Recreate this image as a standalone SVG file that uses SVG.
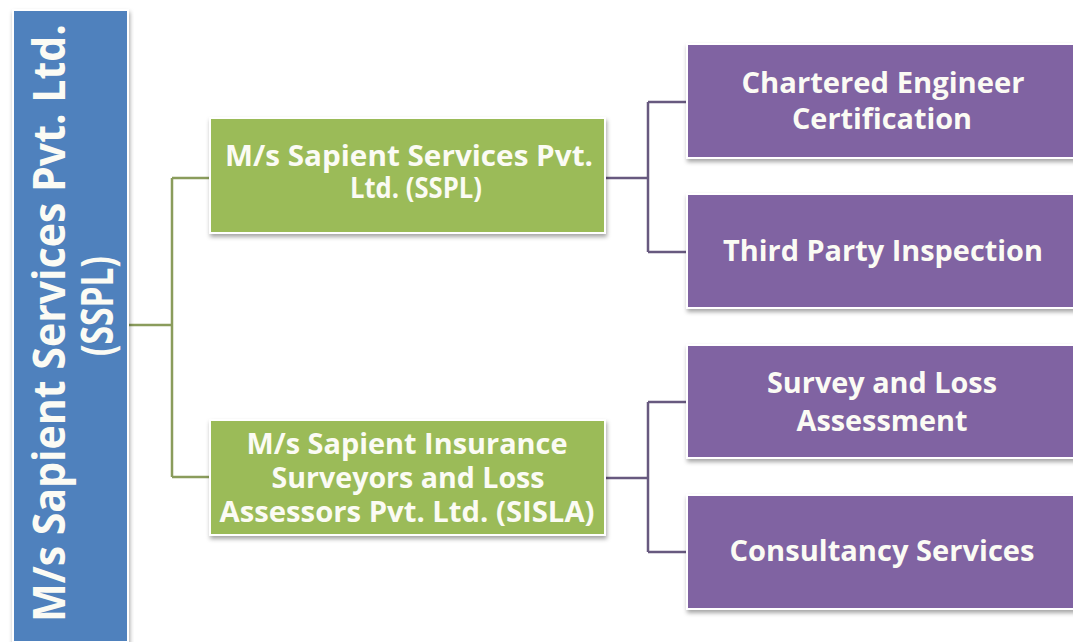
<svg xmlns="http://www.w3.org/2000/svg" width="1073" height="642" viewBox="0 0 1073 642">
<defs>
<filter id="sh" x="-5%" y="-5%" width="110%" height="115%">
<feDropShadow dx="1" dy="3" stdDeviation="2" flood-color="#000" flood-opacity="0.35"/>
</filter>
<style>
.box{stroke:#fff;stroke-width:2;filter:url(#sh)}
.blue{fill:#4F81BD}
.green{fill:#9BBB59}
.purple{fill:#8064A2}
.t{font-family:"Open Sans",Lato,"Liberation Sans",sans-serif;font-weight:700;fill:#fbfbf4;text-anchor:middle;font-size:29px}
.tb{font-size:45px}
.cg{fill:none;stroke:#8A9C5C;stroke-width:2.5}
.cp{fill:none;stroke:#67597F;stroke-width:2.5}
</style>
</defs>
<rect width="1073" height="642" fill="#fff"/>
<g id="connectors">
<path class="cg" d="M129 325 H172 M172 178 V477 M172 178 H211 M172 477 H211"/>
<path class="cp" d="M604 178 H648 M648 102 V252 M648 102 H688 M648 252 H688"/>
<path class="cp" d="M604 478 H648 M648 402 V552 M648 402 H688 M648 552 H688"/>
</g>
<g id="root">
<rect class="box blue" x="13" y="10" width="115" height="632"/>
<text class="t tb" transform="translate(65,323) rotate(-90)" textLength="598" lengthAdjust="spacingAndGlyphs">M/s Sapient Services Pvt. Ltd.</text>
<text class="t tb" transform="translate(113,306) rotate(-90)" textLength="100" lengthAdjust="spacingAndGlyphs">(SSPL)</text>
</g>
<g id="sspl">
<rect class="box green" x="210" y="118" width="395" height="115"/>
<text class="t" x="409" y="166" textLength="368" lengthAdjust="spacingAndGlyphs">M/s Sapient Services Pvt.</text>
<text class="t" x="416" y="198" textLength="132" lengthAdjust="spacingAndGlyphs">Ltd. (SSPL)</text>
</g>
<g id="sisla">
<rect class="box green" x="210" y="420" width="395" height="115"/>
<text class="t" x="407" y="454" textLength="321" lengthAdjust="spacingAndGlyphs">M/s Sapient Insurance</text>
<text class="t" x="408" y="488" textLength="273" lengthAdjust="spacingAndGlyphs">Surveyors and Loss</text>
<text class="t" x="407" y="522" textLength="375" lengthAdjust="spacingAndGlyphs">Assessors Pvt. Ltd. (SISLA)</text>
</g>
<g id="chartered">
<rect class="box purple" x="687" y="44" width="400" height="114"/>
<text class="t" x="883" y="93" textLength="283" lengthAdjust="spacingAndGlyphs">Chartered Engineer</text>
<text class="t" x="882" y="129" textLength="180" lengthAdjust="spacingAndGlyphs">Certification</text>
</g>
<g id="tpi">
<rect class="box purple" x="687" y="194" width="400" height="114"/>
<text class="t" x="883" y="261" textLength="320" lengthAdjust="spacingAndGlyphs">Third Party Inspection</text>
</g>
<g id="survey">
<rect class="box purple" x="687" y="345" width="400" height="113"/>
<text class="t" x="882" y="393" textLength="230" lengthAdjust="spacingAndGlyphs">Survey and Loss</text>
<text class="t" x="882" y="431" textLength="171" lengthAdjust="spacingAndGlyphs">Assessment</text>
</g>
<g id="consult">
<rect class="box purple" x="687" y="495" width="400" height="114"/>
<text class="t" x="882" y="561" textLength="305" lengthAdjust="spacingAndGlyphs">Consultancy Services</text>
</g>
</svg>
